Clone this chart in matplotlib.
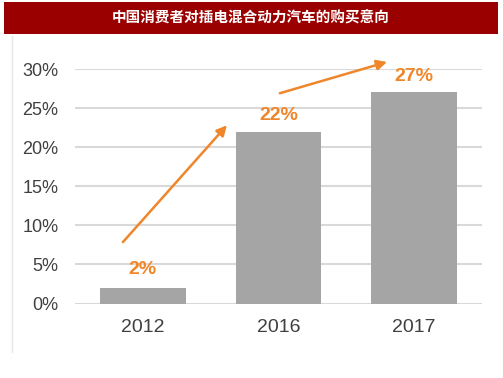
import matplotlib
matplotlib.use("Agg")
import matplotlib.pyplot as plt
from matplotlib.patches import Rectangle
from matplotlib.lines import Line2D

plt.rcParams['font.family'] = ['Noto Sans CJK SC', 'DejaVu Sans']

title = "中国消费者对插电混合动力汽车的购买意向"
categories = ["2012", "2016", "2017"]
values = [2, 22, 27]
yticks = [0, 5, 10, 15, 20, 25, 30]
ytick_labels = ["0%", "5%", "10%", "15%", "20%", "25%", "30%"]

W, H = 503, 378
fig = plt.figure(figsize=(W / 100, H / 100), dpi=100)

# title banner
fig.patches.append(Rectangle((4 / W, 1 - 34 / H), 494 / W, 32 / H,
                             transform=fig.transFigure, facecolor="#9B0000",
                             edgecolor="none", zorder=0))
fig.text(251 / W, 1 - 18 / H, title, color="white", fontsize=10.5,
         fontweight="bold", ha="center", va="center")
# left border line
fig.lines.append(Line2D([12 / W, 12 / W], [1 - 36 / H, 1 - 352 / H],
                        transform=fig.transFigure, color="#E6E6E6", lw=1))

ax = fig.add_axes([75 / W, 1 - 303.5 / H, (482 - 75) / W, (303.5 - 69) / H])
x = range(len(categories))
ax.bar(x, values, width=0.63, color="#A5A5A5", zorder=2)
ax.set_xlim(-0.5, 2.5)
ax.set_ylim(0, 30)
ax.set_yticks(yticks)
ax.set_yticklabels(ytick_labels, fontsize=13, color="#404040",
                   family=['Liberation Sans', 'DejaVu Sans'])
ax.set_xticks(list(x))
ax.set_xticklabels(categories, fontsize=14, color="#404040",
                   family=['Liberation Sans', 'DejaVu Sans'])
ax.tick_params(length=0)
ax.tick_params(axis="y", pad=12)
ax.tick_params(axis="x", pad=11)
ax.yaxis.grid(True, color="#D9D9D9", lw=1.5, zorder=0)
ax.set_axisbelow(True)
for s in ax.spines.values():
    s.set_visible(False)

orange = "#F0862A"
label_y = [4.3, 24.1, 29.1]
for i, (v, ly) in enumerate(zip(values, label_y)):
    ax.text(i, ly, f"{v}%", color=orange, fontsize=14, fontweight="bold",
            ha="center", va="center", family=['Liberation Sans', 'DejaVu Sans'])

arrows = [((-0.147, 7.85), (0.62, 22.8)), ((1.01, 26.9), (1.8, 30.9))]
for start, end in arrows:
    ax.annotate("", xy=end, xytext=start, annotation_clip=False,
                arrowprops=dict(arrowstyle="-|>,head_length=0.6,head_width=0.3",
                                color=orange, lw=1.8, shrinkA=0, shrinkB=0))

fig.savefig("out.png", dpi=100, facecolor="white")
